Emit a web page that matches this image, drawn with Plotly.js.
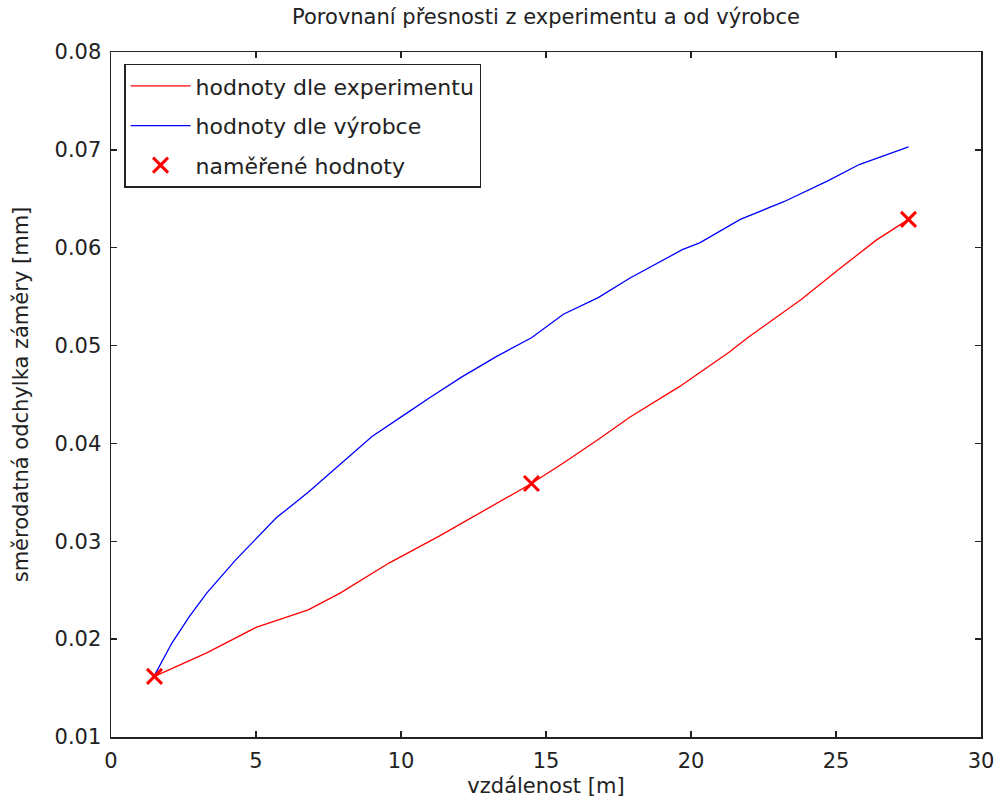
<!DOCTYPE html>
<html>
<head>
<meta charset="utf-8">
<script src="https://cdn.plot.ly/plotly-3.0.1.min.js"></script>
<style>html,body{margin:0;padding:0;background:#fff;}#chart{width:997px;height:809px;}</style>
</head>
<body>
<div id="chart"></div>
<script>
const expX = [1.5, 3.3, 5.0, 6.8, 7.9, 9.6, 11.3, 12.7, 14.5, 15.6, 16.8, 17.9, 19.6, 21.3, 22.0, 23.8, 25.1, 26.4, 27.5];
const expY = [0.0162, 0.0186, 0.0212, 0.0230, 0.0247, 0.0278, 0.0305, 0.0329, 0.0359, 0.0380, 0.0404, 0.0427, 0.0458, 0.0493, 0.0509, 0.0547, 0.0578, 0.0608, 0.0629];
const mfrX = [1.5, 2.1, 2.7, 3.3, 4.3, 5.7, 6.8, 7.7, 9.0, 10.2, 11.0, 12.1, 13.3, 14.5, 15.6, 16.8, 17.9, 19.7, 20.3, 21.7, 23.2, 24.7, 25.8, 27.5];
const mfrY = [0.0163, 0.0196, 0.0223, 0.0247, 0.0281, 0.0324, 0.0350, 0.0373, 0.0407, 0.0431, 0.0447, 0.0468, 0.0489, 0.0508, 0.0532, 0.0549, 0.0569, 0.0598, 0.0605, 0.0629, 0.0647, 0.0668, 0.0685, 0.0703];
const measX = [1.5, 14.5, 27.5];
const measY = [0.0162, 0.0359, 0.0629];
const names = ['hodnoty dle experimentu', 'hodnoty dle výrobce', 'naměřené hodnoty'];
const xTicks = [0, 5, 10, 15, 20, 25, 30];
const yTicks = [0.01, 0.02, 0.03, 0.04, 0.05, 0.06, 0.07, 0.08];

const font = {family: 'DejaVu Sans, Verdana, sans-serif', size: 21, color: '#222'};
const legendFont = {family: 'DejaVu Sans, Verdana, sans-serif', size: 22, color: '#222'};

const traces = [
  {x: expX, y: expY, mode: 'lines', name: names[0], legendgroup: 'a', line: {color: '#ff0000', width: 1.3}},
  {x: mfrX, y: mfrY, mode: 'lines', name: names[1], legendgroup: 'b', line: {color: '#0000ff', width: 1.3}},
  {x: measX, y: measY, mode: 'markers', name: names[2], legendgroup: 'c',
   marker: {symbol: 'x-thin-open', size: 15, color: '#ff0000', line: {width: 3, color: '#ff0000'}}}
];

const axisCommon = {
  showgrid: false, zeroline: false, showline: true, linecolor: '#222', linewidth: 1.5,
  mirror: 'ticks', ticks: 'inside', ticklen: 6, tickcolor: '#222', tickwidth: 1.5,
  tickfont: font, ticklabelstandoff: 4
};

const layout = {
  width: 997, height: 809,
  margin: {l: 111, r: 16, t: 52, b: 72},
  paper_bgcolor: '#fff', plot_bgcolor: '#fff',
  font: font,
  title: {text: 'Porovnaní přesnosti z experimentu a od výrobce', font: font, xref: 'paper', x: 0.5, xanchor: 'center', y: 0.988, yanchor: 'top'},
  xaxis: Object.assign({}, axisCommon, {range: [0, 30], tickvals: xTicks, ticktext: xTicks.map(String),
    title: {text: 'vzdálenost [m]', font: font, standoff: 6}}),
  yaxis: Object.assign({}, axisCommon, {range: [0.01, 0.08], tickvals: yTicks, ticktext: yTicks.map(v => v.toFixed(2)),
    title: {text: 'směrodatná odchylka záměry [mm]', font: font, standoff: 20}}),
  showlegend: true,
  legend: {x: 0.015, y: 0.983, xanchor: 'left', yanchor: 'top', bordercolor: '#222', borderwidth: 1.5,
    bgcolor: '#fff', font: legendFont, tracegroupgap: 8, itemwidth: 60}
};

Plotly.newPlot('chart', traces, layout, {displayModeBar: false, staticPlot: true});
</script>
</body>
</html>
